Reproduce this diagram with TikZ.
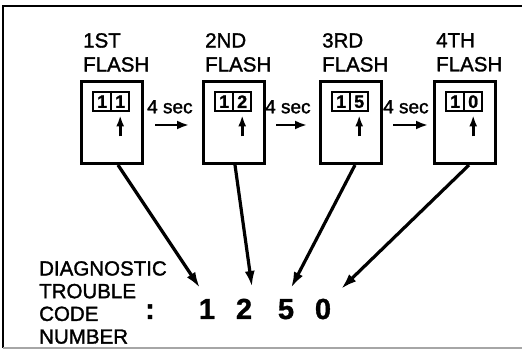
\documentclass[tikz,border=0pt]{standalone}
\usepackage{fontspec}
\setmainfont{Liberation Sans}
\newfontfamily\heavy{Liberation Sans}[FakeBold=1.5]
\newfontfamily\heavybold{Liberation Sans Bold}[FakeBold=1.2]
\usetikzlibrary{arrows.meta,calc}
\begin{document}
\begin{tikzpicture}[x=1pt,y=-1pt,
  lab/.style={font=\heavy\fontsize{20.5}{24}\selectfont, align=left, inner sep=0pt, anchor=north west},
  seclab/.style={font=\heavy\fontsize{19}{20}\selectfont, inner sep=0pt, anchor=north west},
  flashbox/.style={draw, line width=2.6pt, minimum width=61pt, minimum height=82pt, inner sep=0pt, anchor=north west},
  disp/.style={draw, line width=2.4pt, minimum width=36pt, minimum height=19pt, inner sep=0pt, anchor=north west},
  celldig/.style={font=\heavybold\fontsize{18}{18}\selectfont, inner sep=0pt},
  ptr/.style={line width=3pt, -{Latex[length=11pt,width=8pt]}},
  secarrow/.style={line width=2.8pt, -{Latex[length=12pt,width=9pt]}},
  bigarrow/.style={line width=3.2pt, -{Latex[length=16pt,width=10pt]}},
  codedig/.style={font=\heavybold\fontsize{29}{30}\selectfont, inner sep=0pt, anchor=base},
]
\useasboundingbox (0,0) rectangle (522,352);
% frame
\draw[line width=2.8pt] (522,6) -- (3,6) -- (3,348);
\draw[gray!70, line width=1.5pt] (3,348) -- (522,348);

\foreach \i/\x/\lab/\da/\db in {1/80/1ST/1/1, 2/202/2ND/1/2, 3/319/3RD/1/5, 4/433/4TH/1/0}{
  \node[flashbox] (box\i) at (\x,80) {};
  \node[lab] (lab\i) at (\x+3,33) {\lab\\FLASH};
  \node[disp] (disp\i) at (\x+12,91) {};
  \draw[line width=2pt] (disp\i.north) -- (disp\i.south);
  \node[celldig] (da\i) at ([xshift=-9pt]disp\i.center) {\da};
  \node[celldig] (db\i) at ([xshift=9pt]disp\i.center) {\db};
  \coordinate (ptrs\i) at ([xshift=9pt,yshift=-24pt]disp\i.south);
  \coordinate (ptre\i) at ([xshift=9pt,yshift=-3pt]disp\i.south);
  \draw[ptr] (ptrs\i) -- (ptre\i);
}

% 4 sec labels and arrows
\node[seclab] (sec1) at (147,100) {4 sec};
\node[seclab] (sec2) at (265,100) {4 sec};
\node[seclab] (sec3) at (383,100) {4 sec};
\coordinate (s1a) at (155,125); \coordinate (s1b) at (189,125);
\coordinate (s2a) at (276,125); \coordinate (s2b) at (307,125);
\coordinate (s3a) at (393,125); \coordinate (s3b) at (428,125);
\draw[secarrow] (s1a) -- (s1b);
\draw[secarrow] (s2a) -- (s2b);
\draw[secarrow] (s3a) -- (s3b);

% bottom text
\node[font=\heavy\fontsize{20.5}{22.7}\selectfont, align=left, inner sep=0pt, anchor=north west] (dtc) at (39,261)
  {DIAGNOSTIC\\TROUBLE\\CODE\\NUMBER};
\node[codedig] (colon) at (150,319) {:};
\node[codedig] (d1) at (207,319) {1};
\node[codedig] (d2) at (244,319) {2};
\node[codedig] (d3) at (286,319) {5};
\node[codedig] (d4) at (323,319) {0};

% big arrows
\coordinate (b1a) at (118,165); \coordinate (b1b) at (200,288);
\coordinate (b2a) at (235,165); \coordinate (b2b) at (252,287);
\coordinate (b3a) at (355,165); \coordinate (b3b) at (291,288);
\coordinate (b4a) at (469,165); \coordinate (b4b) at (341,289);
\draw[bigarrow] (b1a) -- (b1b);
\draw[bigarrow] (b2a) -- (b2b);
\draw[bigarrow] (b3a) -- (b3b);
\draw[bigarrow] (b4a) -- (b4b);
\end{tikzpicture}
\end{document}
